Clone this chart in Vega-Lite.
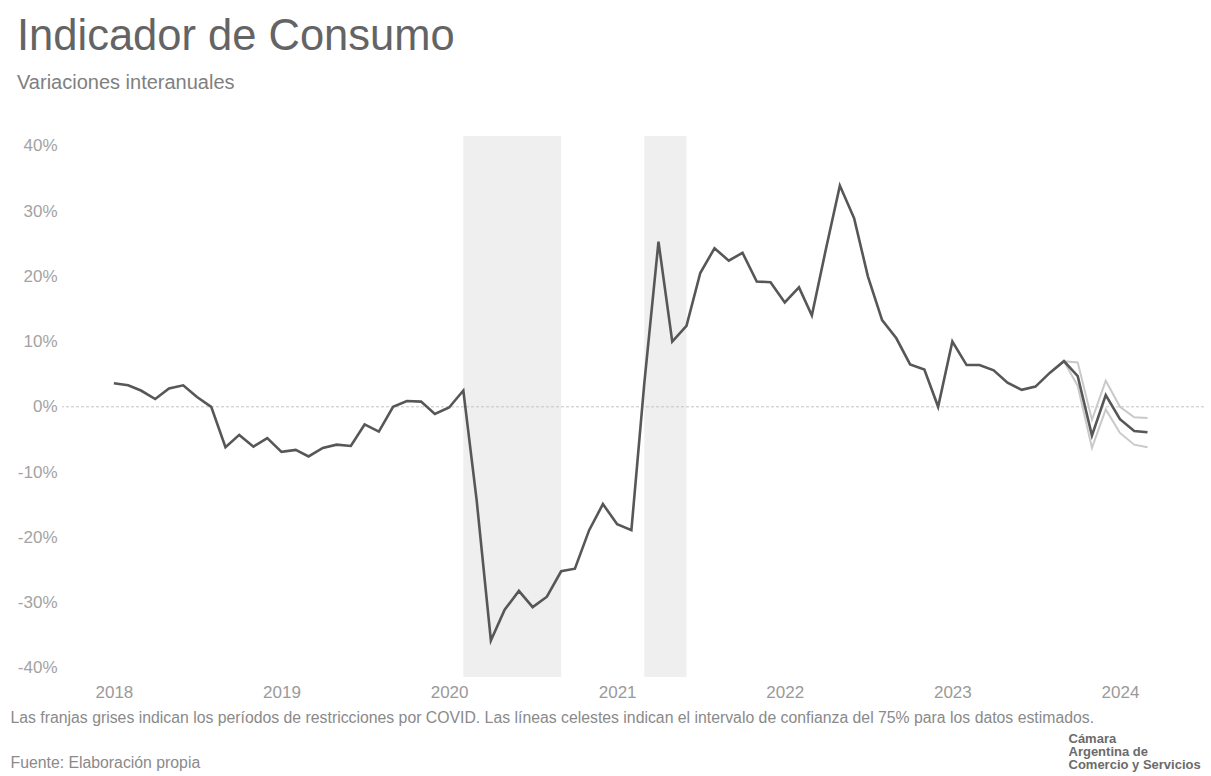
{
  "$schema": "https://vega.github.io/schema/vega-lite/v6.json",
  "width": 1142,
  "height": 541,
  "autosize": {"type": "none"},
  "padding": {"left": 62, "top": 136, "right": 7, "bottom": 99},
  "background": "white",
  "title": {
    "text": "Indicador de Consumo",
    "subtitle": "Variaciones interanuales",
    "anchor": "start",
    "frame": "group",
    "dx": -45,
    "offset": 42,
    "font": "Liberation Sans",
    "fontSize": 43.5,
    "fontWeight": "normal",
    "color": "#646464",
    "subtitleFont": "Liberation Sans",
    "subtitleFontSize": 20,
    "subtitleColor": "#808080",
    "subtitlePadding": 14
  },
  "datasets": {
    "consumo": [
      {"date": "2018-01-01", "v": 3.6},
      {"date": "2018-02-01", "v": 3.3},
      {"date": "2018-03-01", "v": 2.5},
      {"date": "2018-04-01", "v": 1.2},
      {"date": "2018-05-01", "v": 2.8},
      {"date": "2018-06-01", "v": 3.3},
      {"date": "2018-07-01", "v": 1.5},
      {"date": "2018-08-01", "v": 0.0},
      {"date": "2018-09-01", "v": -6.2},
      {"date": "2018-10-01", "v": -4.3},
      {"date": "2018-11-01", "v": -6.1},
      {"date": "2018-12-01", "v": -4.8},
      {"date": "2019-01-01", "v": -6.9},
      {"date": "2019-02-01", "v": -6.6},
      {"date": "2019-03-01", "v": -7.6},
      {"date": "2019-04-01", "v": -6.3},
      {"date": "2019-05-01", "v": -5.8},
      {"date": "2019-06-01", "v": -6.0},
      {"date": "2019-07-01", "v": -2.7},
      {"date": "2019-08-01", "v": -3.8},
      {"date": "2019-09-01", "v": 0.0},
      {"date": "2019-10-01", "v": 0.9},
      {"date": "2019-11-01", "v": 0.8},
      {"date": "2019-12-01", "v": -1.1},
      {"date": "2020-01-01", "v": -0.1},
      {"date": "2020-02-01", "v": 2.5},
      {"date": "2020-03-01", "v": -14.3},
      {"date": "2020-04-01", "v": -35.8},
      {"date": "2020-05-01", "v": -31.1},
      {"date": "2020-06-01", "v": -28.2},
      {"date": "2020-07-01", "v": -30.7},
      {"date": "2020-08-01", "v": -29.1},
      {"date": "2020-09-01", "v": -25.2},
      {"date": "2020-10-01", "v": -24.8},
      {"date": "2020-11-01", "v": -18.9},
      {"date": "2020-12-01", "v": -14.9},
      {"date": "2021-01-01", "v": -18.0},
      {"date": "2021-02-01", "v": -18.9},
      {"date": "2021-03-01", "v": 3.5},
      {"date": "2021-04-01", "v": 25.3},
      {"date": "2021-05-01", "v": 10.0},
      {"date": "2021-06-01", "v": 12.4},
      {"date": "2021-07-01", "v": 20.5},
      {"date": "2021-08-01", "v": 24.3},
      {"date": "2021-09-01", "v": 22.4},
      {"date": "2021-10-01", "v": 23.6},
      {"date": "2021-11-01", "v": 19.2},
      {"date": "2021-12-01", "v": 19.1},
      {"date": "2022-01-01", "v": 16.0},
      {"date": "2022-02-01", "v": 18.3},
      {"date": "2022-03-01", "v": 14.0},
      {"date": "2022-04-01", "v": 24.3},
      {"date": "2022-05-01", "v": 33.9},
      {"date": "2022-06-01", "v": 28.9},
      {"date": "2022-07-01", "v": 20.0},
      {"date": "2022-08-01", "v": 13.3},
      {"date": "2022-09-01", "v": 10.5},
      {"date": "2022-10-01", "v": 6.5},
      {"date": "2022-11-01", "v": 5.7},
      {"date": "2022-12-01", "v": 0.0},
      {"date": "2023-01-01", "v": 10.0},
      {"date": "2023-02-01", "v": 6.4},
      {"date": "2023-03-01", "v": 6.4},
      {"date": "2023-04-01", "v": 5.6},
      {"date": "2023-05-01", "v": 3.7},
      {"date": "2023-06-01", "v": 2.6},
      {"date": "2023-07-01", "v": 3.1},
      {"date": "2023-08-01", "v": 5.2},
      {"date": "2023-09-01", "v": 7.0},
      {"date": "2023-10-01", "v": 4.7},
      {"date": "2023-11-01", "v": -4.4},
      {"date": "2023-12-01", "v": 1.8},
      {"date": "2024-01-01", "v": -1.9},
      {"date": "2024-02-01", "v": -3.7},
      {"date": "2024-03-01", "v": -3.9}
    ],
    "intervalo": [
      {"date": "2023-09-01", "serie": "Superior", "v": 7.0},
      {"date": "2023-10-01", "serie": "Superior", "v": 6.8},
      {"date": "2023-11-01", "serie": "Superior", "v": -2.0},
      {"date": "2023-12-01", "serie": "Superior", "v": 4.0},
      {"date": "2024-01-01", "serie": "Superior", "v": 0.0},
      {"date": "2024-02-01", "serie": "Superior", "v": -1.6},
      {"date": "2024-03-01", "serie": "Superior", "v": -1.7},
      {"date": "2023-09-01", "serie": "Inferior", "v": 7.0},
      {"date": "2023-10-01", "serie": "Inferior", "v": 3.2},
      {"date": "2023-11-01", "serie": "Inferior", "v": -6.3},
      {"date": "2023-12-01", "serie": "Inferior", "v": -0.4},
      {"date": "2024-01-01", "serie": "Inferior", "v": -4.0},
      {"date": "2024-02-01", "serie": "Inferior", "v": -5.8},
      {"date": "2024-03-01", "serie": "Inferior", "v": -6.2}
    ],
    "restricciones": [
      {"date": "2020-02-01", "fin": "2020-09-01"},
      {"date": "2021-03-01", "fin": "2021-06-01"}
    ]
  },
  "resolve": {"axis": {"y": "independent"}},
  "encoding": {
    "x": {"field": "date", "type": "temporal",
          "scale": {"type": "utc", "domain": [{"year": 2017, "month": 9, "date": 10, "utc": true}, {"year": 2024, "month": 7, "date": 2, "utc": true}]},
          "axis": {"values": [{"year": 2018, "utc": true}, {"year": 2019, "utc": true}, {"year": 2020, "utc": true}, {"year": 2021, "utc": true}, {"year": 2022, "utc": true}, {"year": 2023, "utc": true}, {"year": 2024, "utc": true}],
                   "labelExpr": "utcFormat(datum.value, '%Y')",
                   "ticks": false, "domain": false, "grid": false, "labelPadding": 7,
                   "labelFont": "Liberation Sans", "labelFontSize": 17, "labelColor": "#9a9a9a",
                   "title": ["Las franjas grises indican los períodos de restricciones por COVID. Las líneas celestes indican el intervalo de confianza del 75% para los datos estimados.", "Fuente: Elaboración propia"],
                   "titleAlign": "left", "titleAnchor": "start", "titleBaseline": "alphabetic",
                   "titleX": -52, "titleY": 45, "titleFont": "Liberation Sans", "titleFontSize": 15.8,
                   "titleFontWeight": "normal", "titleColor": "#8a8a8a", "titleLineHeight": 45}}
  },
  "layer": [
    {
      "data": {"name": "restricciones"},
      "mark": {"type": "rect", "color": "#efefef"},
      "encoding": {
        "x2": {"field": "fin"}
      }
    },
    {
      "data": {"values": [{"cero": 0}]},
      "mark": {"type": "rule", "color": "#c4c4c4", "strokeWidth": 1, "strokeDash": [3, 2]},
      "encoding": {
        "x": null,
        "y": {"field": "cero", "type": "quantitative",
              "scale": {"domain": [-41.4, 41.5], "nice": false, "zero": false},
              "axis": {"orient": "right", "labels": false, "ticks": false, "domain": false, "grid": false,
                       "title": ["Cámara", "Argentina de", "Comercio y Servicios"],
                       "titleAngle": 0, "titleAlign": "left", "titleBaseline": "alphabetic",
                       "titleX": -136, "titleY": 606, "titleFont": "Liberation Sans",
                       "titleFontSize": 13, "titleFontWeight": "bold", "titleColor": "#6b6b6b", "titleLineHeight": 13}}
      }
    },
    {
      "data": {"name": "intervalo"},
      "mark": {"type": "line", "color": "#c9c9c9", "strokeWidth": 2},
      "encoding": {
        "y": {"field": "v", "type": "quantitative", "axis": null},
        "detail": {"field": "serie"}
      }
    },
    {
      "data": {"name": "consumo"},
      "mark": {"type": "line", "color": "#575757", "strokeWidth": 2.6},
      "encoding": {
        "y": {"field": "v", "type": "quantitative",
              "axis": {"orient": "left", "values": [-40, -30, -20, -10, 0, 10, 20, 30, 40],
                       "labelExpr": "datum.value + '%'", "ticks": false, "domain": false, "grid": false,
                       "labelPadding": 5, "labelFont": "Liberation Sans", "labelFontSize": 17,
                       "labelColor": "#a3a3a3", "title": null}}
      }
    }
  ],
  "config": {"view": {"stroke": null}}
}
